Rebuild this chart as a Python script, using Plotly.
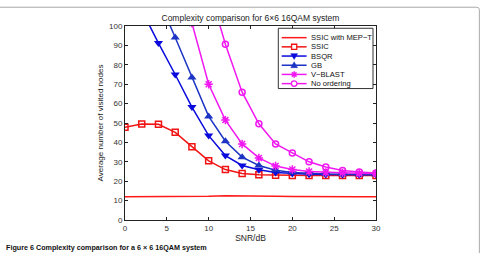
import plotly.graph_objects as go

snr = [0, 2, 4, 6, 8, 10, 12, 14, 16, 18, 20, 22, 24, 26, 28, 30]

ssic_mept = [12, 12, 12, 12, 12, 12.2, 12.5, 12.5, 12.3, 12.2, 12.1, 12, 12, 12, 12, 12]
ssic = [47.8, 49.5, 49.3, 45.2, 37.8, 30.5, 26.0, 24.0, 23.3, 23.1, 23.0, 23.0, 23.0, 23.0, 23.0, 23.0]
bsqr = [125, 108, 91.2, 75.0, 58.2, 43.5, 33.2, 28.1, 25.9, 24.5, 24.0, 23.6, 23.4, 23.3, 23.3, 23.3]
gb = [155, 135, 114, 94.1, 73.4, 53.4, 40.6, 32.4, 28.1, 25.7, 24.5, 24.0, 23.7, 23.6, 23.5, 23.5]
vblast = [200, 180, 160, 135, 101.5, 70.0, 51.5, 39.2, 32.0, 27.8, 26.0, 25.0, 24.5, 24.3, 24.1, 24.0]
noord = [200, 170, 150, 140, 130, 120, 90.6, 65.9, 49.6, 39.2, 34.6, 30.0, 27.3, 25.5, 24.7, 24.2]

names = ["SSIC with MEP\u2212T", "SSIC", "BSQR", "GB", "V\u2212BLAST", "No ordering"]
colors = ["#ff1a1a", "#f01414", "#0a0adc", "#1c34c4", "#f018f0", "#f018f0"]
symbols = [None, "square-open", "triangle-down", "triangle-up", "asterisk-open", "circle-open"]
series = [ssic_mept, ssic, bsqr, gb, vblast, noord]

fig = go.Figure()
for nm, col, sym, ys in zip(names, colors, symbols, series):
    if sym is None:
        fig.add_trace(go.Scatter(x=snr, y=ys, mode="lines", name=nm, showlegend=False,
                                 line=dict(color=col, width=1.5)))
    else:
        filled = not sym.endswith("open")
        fig.add_trace(go.Scatter(x=snr, y=ys, mode="lines+markers", name=nm, showlegend=False,
                                 line=dict(color=col, width=1.5),
                                 marker=dict(symbol=sym, size=8 if filled else (7 if sym.startswith("asterisk") else 6),
                                             color=col, line=dict(width=1.5 if not filled else 0, color=col))))

axis_common = dict(showgrid=False, zeroline=False, showline=True, linecolor="#222", linewidth=1,
                   mirror="ticks", ticks="inside", ticklen=3, tickcolor="#222",
                   tickfont=dict(family="Liberation Sans, Arial", size=8, color="#333"))

L, R, T, B = 124.5, 106.7, 26, 30.7
W, H = 483, 253
pw, ph = W - L - R, H - T - B

def px(xp):
    return (xp - L) / pw

def py(yp):
    return (H - B - yp) / ph

fig.update_layout(
    width=W, height=H,
    margin=dict(l=L, r=R, t=T, b=B),
    paper_bgcolor="white", plot_bgcolor="white",
    font=dict(family="Liberation Sans, Arial", size=8, color="#222"),
    title=dict(text="Complexity comparison for 6\u00d76 16QAM system", x=0.5185, xanchor="center",
               y=0.93, yanchor="middle", font=dict(size=8.5, color="#222")),
    xaxis=dict(range=[0, 30], tickvals=[0, 5, 10, 15, 20, 25, 30], title=dict(text="SNR/dB", standoff=2,
               font=dict(size=8.5)), **axis_common),
    yaxis=dict(range=[0, 100], tickvals=list(range(0, 101, 10)), title=dict(text="Average number of visited nodes",
               standoff=4, font=dict(size=8)), **axis_common),
    showlegend=False,
)

# legend box (drawn manually, MATLAB-style compact)
fig.add_shape(type="rect", xref="paper", yref="paper", layer="above",
              x0=px(278.3), x1=px(373.3), y0=py(89.3), y1=py(28.3),
              fillcolor="white", line=dict(color="#333", width=1))
for i, (nm, col, sym) in enumerate(zip(names, colors, symbols)):
    yy = py(37.8 + 9.3 * i)
    fig.add_shape(type="line", xref="paper", yref="paper", layer="above",
                  x0=px(281.7), x1=px(306.7), y0=yy, y1=yy, line=dict(color=col, width=1.5))
    ax = px(294.2)
    common = dict(xref="paper", yref="paper", layer="above", xsizemode="pixel", ysizemode="pixel",
                  xanchor=ax, yanchor=yy)
    if sym == "square-open":
        fig.add_shape(type="rect", x0=-2.6, x1=2.6, y0=-2.6, y1=2.6, fillcolor="white",
                      line=dict(color=col, width=1.3), **common)
    elif sym == "triangle-down":
        fig.add_shape(type="path", path="M -3.4,2.4 L 3.4,2.4 L 0,-3.4 Z", fillcolor=col,
                      line=dict(color=col, width=0.5), **common)
    elif sym == "triangle-up":
        fig.add_shape(type="path", path="M -3.4,-2.4 L 3.4,-2.4 L 0,3.4 Z", fillcolor=col,
                      line=dict(color=col, width=0.5), **common)
    elif sym == "asterisk-open":
        fig.add_shape(type="path",
                      path="M -3.2,0 L 3.2,0 M 0,-3.2 L 0,3.2 M -2.3,-2.3 L 2.3,2.3 M -2.3,2.3 L 2.3,-2.3",
                      line=dict(color=col, width=1.4), **common)
    elif sym == "circle-open":
        fig.add_shape(type="circle", x0=-2.8, x1=2.8, y0=-2.8, y1=2.8, fillcolor="white",
                      line=dict(color=col, width=1.3), **common)
    fig.add_annotation(xref="paper", yref="paper", x=px(309.3), y=yy, xanchor="left", yanchor="middle",
                       text=nm, showarrow=False, font=dict(size=7.6, color="#111"))

# figure frame (right edge and top)
fig.add_shape(type="path", xref="paper", yref="paper",
              path="M -0.6,1.0968 L 1.40,1.0968 Q 1.4118,1.0968 1.4118,1.085 L 1.4118,-0.2",
              line=dict(color="#aaa", width=1))

fig.add_annotation(xref="paper", yref="paper", x=px(3), y=py(250), xanchor="left", yanchor="middle",
                   text="<b>Figure 6 Complexity comparison for a 6 \u00d7 6 16QAM system</b>",
                   showarrow=False, font=dict(size=7.2, color="#111"))

fig.write_html("out.html")
